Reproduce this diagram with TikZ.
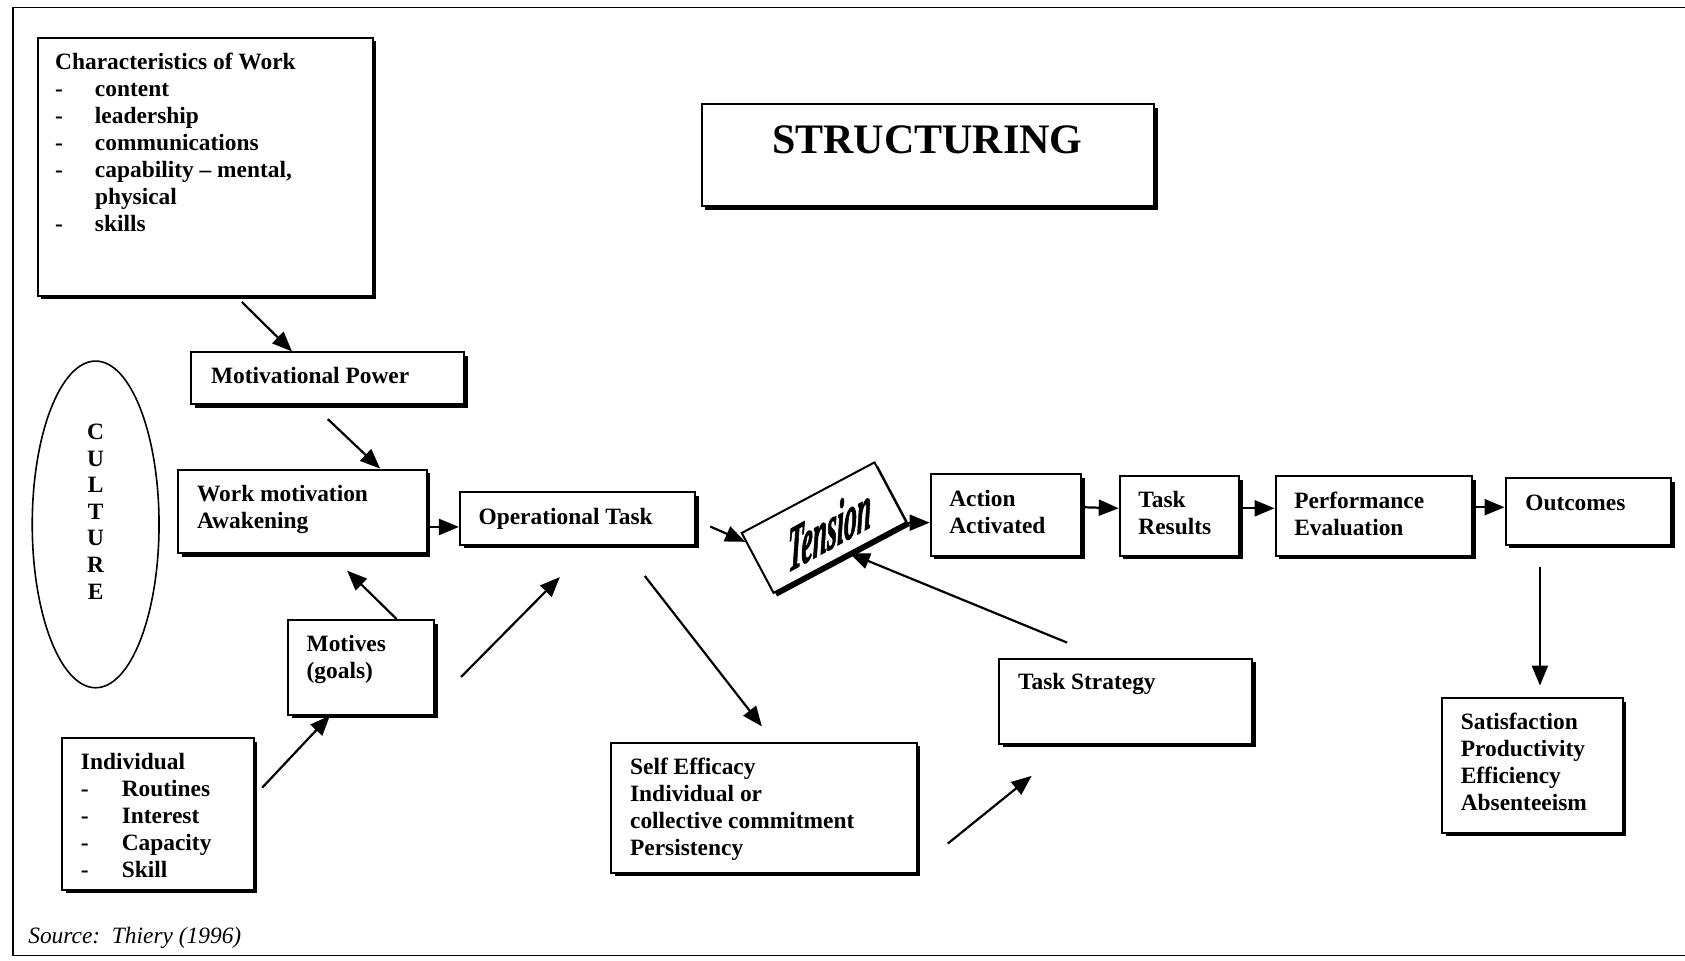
\documentclass[tikz,border=0pt]{standalone}
\usepackage{fontspec}
\setmainfont{Liberation Serif}
\newfontfamily\tenfont[Extension=.ttf, UprightFont=*-BoldItalic, FakeBold=2]{LiberationSerif}
\usetikzlibrary{arrows.meta,shadows,calc,fit,shapes.geometric}
\newcommand{\dsh}{\makebox[19.9pt][l]{-}}
\newcommand{\dshb}{\makebox[20.4pt][l]{-}}
\begin{document}
\begin{tikzpicture}[x=0.5373pt,y=-0.5373pt,
  box/.style={draw, line width=1pt, fill=white, inner sep=0pt,
    drop shadow={shadow xshift=1.8pt, shadow yshift=-1.8pt, fill=black, opacity=1}},
  txt/.style={anchor=base west, align=left, inner sep=0pt, font=\bfseries\fontsize{11.7}{13.5}\selectfont},
  arr/.style={line width=1.1pt, -{Triangle[length=10pt,width=8pt]}}]
\useasboundingbox (0,0) rectangle (1568,894);
\draw[line width=0.8pt] (1568,7) -- (12,7) -- (12,889) -- (1568,889);

% title
\node[box, fit={(653,97) (1074,192)}] (st) {};
\node[inner sep=0pt, font=\bfseries\fontsize{21}{21}\selectfont] (stt) at (863,130) {STRUCTURING};

% characteristics of work (anchor = baseline of last line)
\node[box, fit={(35,35) (347,275)}] (cw) {};
\node[txt] (cwt) at (51,215.5) {Characteristics of Work\\
\dsh content\\
\dsh leadership\\
\dsh communications\\
\dsh capability -- mental,\\
\hspace*{19.9pt}physical\\
\dsh skills};

% motivational power
\node[box, fit={(178,328) (432,376)}] (mp) {};
\node[txt] (mpt) at (196,357) {Motivational Power};

% culture
\node[draw, ellipse, line width=0.8pt, inner sep=0pt, minimum width=118*0.5373pt, minimum height=304*0.5373pt] (cul) at (89,488) {};
\node[inner sep=0pt, align=center, font=\bfseries\fontsize{11.7}{13.3}\selectfont] (cult) at (89,476) {C\\U\\L\\T\\U\\R\\E};

% work motivation
\node[box, fit={(166,437) (397,515)}] (wm) {};
\node[txt] (wmt) at (183,492) {Work motivation\\Awakening};

% operational task
\node[box, fit={(428,458) (647,507)}] (ot) {};
\node[txt] (ott) at (445,488) {Operational Task};

% tension
\node[box, rotate=28, minimum width=75.2pt, minimum height=33.9pt] (ten) at (766.8,491) {};
\begin{scope}[shift={(772,491)}, yslant=0.55]
\node[transform shape, xscale=0.4, inner sep=0pt, font=\tenfont\fontsize{32}{32}\selectfont] (tent) {Tension};
\end{scope}

% chain
\node[box, fit={(866,441) (1006,517)}] (act) {};
\node[txt] (actt) at (883,496) {Action\\Activated};
\node[box, fit={(1042,443) (1153,517)}] (tr) {};
\node[txt] (trt) at (1059,497) {Task\\Results};
\node[box, fit={(1187,443) (1370,517)}] (pe) {};
\node[txt] (pet) at (1204,498) {Performance\\Evaluation};
\node[box, fit={(1401,445) (1555,507)}] (oc) {};
\node[txt] (oct) at (1419,475) {Outcomes};

% satisfaction
\node[box, fit={(1342,650) (1510,775)}] (sa) {};
\node[txt] (sat) at (1359,754.5) {Satisfaction\\Productivity\\Efficiency\\Absenteeism};

% task strategy
\node[box, fit={(930,613) (1165,692)}] (ts) {};
\node[txt] (tst) at (947,642) {Task Strategy};

% self efficacy
\node[box, fit={(569,691) (853,812)}] (se) {};
\node[txt] (set) at (586,796.5) {Self Efficacy\\Individual or\\collective commitment\\Persistency};

% motives
\node[box, fit={(268,577) (404,665)}] (mo) {};
\node[txt] (mot) at (285,631.5) {Motives\\(goals)};

% individual
\node[box, fit={(58,687) (236,828)}] (ind) {};
\node[txt] (indt) at (75,817) {Individual\\
\dshb Routines\\
\dshb Interest\\
\dshb Capacity\\
\dshb Skill};

% source
\node[anchor=base west, inner sep=0pt, font=\itshape\fontsize{11.7}{13.5}\selectfont] (src) at (26,878) {Source:\ \ Thiery (1996)};

% connector end points
\coordinate (a1s) at (225,281);
\coordinate (a2s) at (305,390);
\coordinate (a4e) at (323,531);
\coordinate (a5s) at (244,733);
\coordinate (a6s) at (429,630);
\coordinate (a6e) at (521,537);
\coordinate (a7s) at (661,490);
\coordinate (a8s) at (600,536);
\coordinate (a8e) at (709,676);
\coordinate (a9s) at (882,785);
\coordinate (a9e) at (960,722);
\coordinate (a10s) at (993,598);
\coordinate (a15s) at (1433,528);
\coordinate (a15e) at (1433,638);
\coordinate (a3s) at ($(wm.south east)!0.32!(wm.north east)$);

% connectors
\draw[arr] (a1s) -- ($(mp.north west)!0.37!(mp.north east)$);
\draw[arr] (a2s) -- ($(wm.north west)!0.81!(wm.north east)$);
\draw[arr] (a3s) -- (ot.west |- a3s);
\draw[arr] ($(mo.north west)!0.74!(mo.north east)$) -- (a4e);
\draw[arr] (a5s) -- ($(mo.south west)!0.29!(mo.south east)$);
\draw[arr] (a6s) -- (a6e);
\draw[arr] (a7s) -- ($(ten.north west)!0.15!(ten.south west)$);
\draw[arr] (a8s) -- (a8e);
\draw[arr] (a9s) -- (a9e);
\draw[arr] (a10s) -- ($(ten.south west)!0.57!(ten.south east)$);
\draw[arr] (ten.south east) -- (act.west |- ten.south east);
\draw[arr] ($(act.east)+(0,-7)$) -- ($(tr.west)+(0,-7)$);
\draw[arr] ($(tr.east)+(0,-7)$) -- ($(pe.west)+(0,-7)$);
\draw[arr] ($(pe.east)+(0,-8)$) -- ($(oc.west)+(0,-4)$);
\draw[arr] (a15s) -- (a15e);
\end{tikzpicture}
\end{document}
